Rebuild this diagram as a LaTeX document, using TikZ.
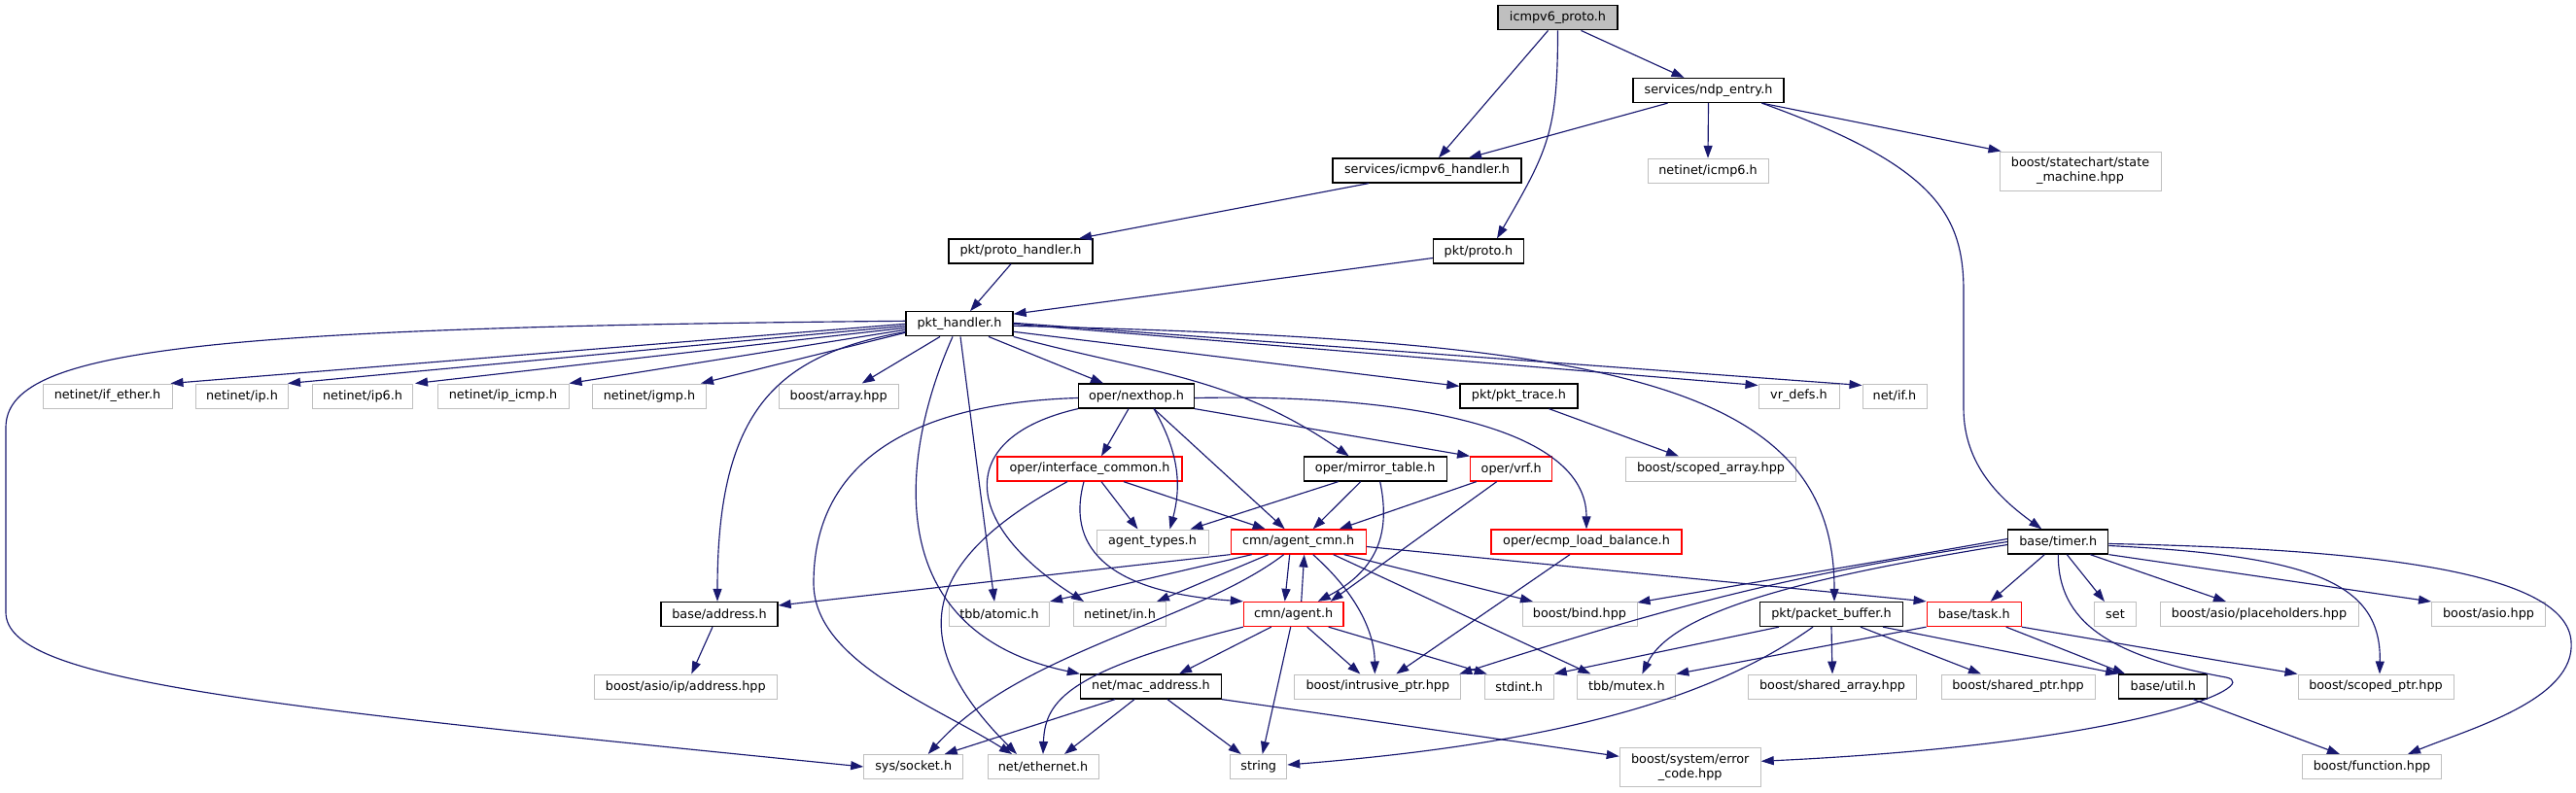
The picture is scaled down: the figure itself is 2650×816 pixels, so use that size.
\documentclass[tikz,border=0pt]{standalone}
\usepackage{fontspec}
\setmainfont{DejaVu Sans}
\usetikzlibrary{arrows.meta}
\definecolor{edgeblue}{HTML}{191970}
\definecolor{extgray}{HTML}{BFBFBF}

\begin{document}
\begin{tikzpicture}[x=1pt,y=1pt,>={Triangle[length=13pt,width=9pt]},
                    every node/.style={font=\fontsize{12.8}{15}\selectfont,
                      inner sep=0pt,minimum height=25pt,align=center},
                    box/.style={draw,rectangle,line width=1.3pt},
                    hdr/.style={box,draw=black},
                    ext/.style={box,draw=extgray,line width=1pt},
                    inc/.style={box,draw=red},
                    top/.style={box,draw=black,fill=extgray},
                    dep/.style={->,draw=edgeblue,line width=1.15pt}]
  \useasboundingbox (0,0) rectangle (2650,-816);
  % headers
  \node[top,minimum width=123pt] (root) at (1602.5,-18.3) {icmpv6\_proto.h};
  \node[hdr,minimum width=155pt] (ndp) at (1757.5,-93) {services/ndp\_entry.h};
  \node[hdr,minimum width=194pt] (ihand) at (1468,-175.5) {services/icmpv6\_handler.h};
  \node[ext,minimum width=124pt] (icmp6) at (1757,-175.8) {netinet/icmp6.h};
  \node[ext,minimum width=166pt,minimum height=40pt] (fsm) at (2140,-176) {boost/statechart/state\\\_machine.hpp};
  \node[hdr,minimum width=148pt] (phand) at (1050,-258.5) {pkt/proto\_handler.h};
  \node[hdr,minimum width=93pt] (proto) at (1521,-258.5) {pkt/proto.h};
  \node[hdr,minimum width=110pt] (pkth) at (987,-333.3) {pkt\_handler.h};
  \node[ext,minimum width=133pt] (ifeth) at (110.5,-407.5) {netinet/if\_ether.h};
  \node[ext,minimum width=95pt] (ip) at (249,-407.5) {netinet/ip.h};
  \node[ext,minimum width=103pt] (ip6) at (373,-407.5) {netinet/ip6.h};
  \node[ext,minimum width=135pt] (icmp) at (517.5,-407.5) {netinet/ip\_icmp.h};
  \node[ext,minimum width=117pt] (igmp) at (668,-407.5) {netinet/igmp.h};
  \node[ext,minimum width=123pt] (array) at (862.7,-407.5) {boost/array.hpp};
  \node[hdr,minimum width=119pt] (nhop) at (1169,-407.5) {oper/nexthop.h};
  \node[hdr,minimum width=121pt] (trace) at (1562.5,-407.5) {pkt/pkt\_trace.h};
  \node[ext,minimum width=83pt] (vrdefs) at (1850.5,-407.5) {vr\_defs.h};
  \node[ext,minimum width=66pt] (netif) at (1949,-407.5) {net/if.h};
  \node[inc,minimum width=190pt] (intf) at (1121,-482.5) {oper/interface\_common.h};
  \node[hdr,minimum width=147pt] (mirror) at (1414.7,-482.5) {oper/mirror\_table.h};
  \node[inc,minimum width=84pt] (vrf) at (1554.7,-482.5) {oper/vrf.h};
  \node[ext,minimum width=175pt] (sarray) at (1760,-482.5) {boost/scoped\_array.hpp};
  \node[ext,minimum width=115pt] (atypes) at (1185.5,-557.5) {agent\_types.h};
  \node[inc,minimum width=139pt] (acmn) at (1335.7,-557.5) {cmn/agent\_cmn.h};
  \node[inc,minimum width=196pt] (ecmp) at (1632,-557.5) {oper/ecmp\_load\_balance.h};
  \node[hdr,minimum width=103pt] (timer) at (2117.3,-557.5) {base/timer.h};
  \node[hdr,minimum width=120pt] (addr) at (740,-632) {base/address.h};
  \node[ext,minimum width=103pt] (atomic) at (1028,-632) {tbb/atomic.h};
  \node[ext,minimum width=95pt] (netin) at (1152,-632) {netinet/in.h};
  \node[inc,minimum width=102.5pt] (agent) at (1330.7,-632) {cmn/agent.h};
  \node[ext,minimum width=118pt] (bind) at (1625,-632) {boost/bind.hpp};
  \node[hdr,minimum width=147pt] (pbuf) at (1884,-632) {pkt/packet\_buffer.h};
  \node[inc,minimum width=97pt] (task) at (2030.7,-632) {base/task.h};
  \node[ext,minimum width=43pt] (set) at (2176,-632) {set};
  \node[ext,minimum width=204pt] (ph) at (2324,-632) {boost/asio/placeholders.hpp};
  \node[ext,minimum width=117pt] (asio) at (2560,-632) {boost/asio.hpp};
  \node[ext,minimum width=188pt] (ipaddr) at (705.3,-706.5) {boost/asio/ip/address.hpp};
  \node[hdr,minimum width=145pt] (mac) at (1184,-706.5) {net/mac\_address.h};
  \node[ext,minimum width=171pt] (iptr) at (1417.3,-706.5) {boost/intrusive\_ptr.hpp};
  \node[ext,minimum width=71pt] (stdint) at (1562.7,-706.5) {stdint.h};
  \node[ext,minimum width=101pt] (mutex) at (1673.3,-706.5) {tbb/mutex.h};
  \node[ext,minimum width=173pt] (sharr) at (1885,-706.5) {boost/shared\_array.hpp};
  \node[ext,minimum width=158pt] (shptr) at (2076,-706.5) {boost/shared\_ptr.hpp};
  \node[hdr,minimum width=91pt] (util) at (2225.3,-706.5) {base/util.h};
  \node[ext,minimum width=160pt] (sptr) at (2444,-706.5) {boost/scoped\_ptr.hpp};
  \node[ext,minimum width=102pt] (socket) at (939.7,-789) {sys/socket.h};
  \node[ext,minimum width=114pt] (eth) at (1073,-789) {net/ethernet.h};
  \node[ext,minimum width=58pt] (string) at (1294.7,-789) {string};
  \node[ext,minimum width=145pt,minimum height=40pt] (errc) at (1738.7,-789.3) {boost/system/error\\\_code.hpp};
  \node[ext,minimum width=143pt] (func) at (2440,-789) {boost/function.hpp};

  % top of the graph
  \draw[dep] ([xshift=-10pt]root.south) -- ([xshift=12pt]ihand.north);
  \draw[dep] (root.south) to[out=-90,in=60,looseness=1.2] ([xshift=19pt]proto.north);
  \draw[dep] ([xshift=24pt]root.south) -- ([xshift=-25pt]ndp.north);
  \draw[dep] ([xshift=-42pt]ndp.south) -- ([xshift=43pt]ihand.north);
  \draw[dep] (ndp.south) -- (icmp6.north);
  \draw[dep] ([xshift=55pt]ndp.south) -- ([xshift=2pt]fsm.north west);
  \draw[dep] ([xshift=55pt]ndp.south) .. controls (1990,-170) and (2020,-220) .. (2020,-300)
    -- (2020,-420) .. controls (2020,-480) and (2060,-515) .. ([xshift=-17pt]timer.north);
  \draw[dep] ([xshift=-60pt]ihand.south) -- ([xshift=60pt]phand.north);
  \draw[dep] ([xshift=-10pt]phand.south) -- ([xshift=11pt]pkth.north);
  \draw[dep] ([yshift=-7pt]proto.west) -- ([yshift=-3pt]pkth.north east);

  % pkt_handler.h
  \draw[dep] (pkth.west) -- ([xshift=-2pt]ifeth.north east);
  \draw[dep] ([yshift=-2pt]pkth.west) -- ([xshift=-1pt]ip.north east);
  \draw[dep] ([yshift=-4pt]pkth.west) -- ([xshift=2pt]ip6.north east);
  \draw[dep] ([yshift=-6pt]pkth.west) -- (icmp.north east);
  \draw[dep] ([yshift=-9pt]pkth.west) -- ([xshift=-6pt]igmp.north east);
  \draw[dep] ([xshift=-20pt]pkth.south) -- ([xshift=24pt]array.north);
  \draw[dep] ([yshift=3pt]pkth.west) .. controls (200,-337) and (6,-360) .. (6,-440)
    -- (6,-630) .. controls (6,-700) and (250,-725) .. (socket.west);
  \draw[dep] ([yshift=5pt]pkth.south west) .. controls (800,-365) and (738,-420) .. ([xshift=-2pt]addr.north);
  \draw[dep] ([xshift=-7pt]pkth.south) .. controls (925,-470) and (905,-650) .. (mac.north west);
  \draw[dep] ([xshift=1pt]pkth.south) -- ([xshift=-5pt]atomic.north);
  \draw[dep] ([xshift=30pt]pkth.south) -- ([xshift=-34pt]nhop.north);
  \draw[dep] (pkth.south east) to[out=-15,in=145] ([xshift=-27pt]mirror.north);
  \draw[dep] ([yshift=-8pt]pkth.east) -- ([yshift=-3pt]trace.north west);
  \draw[dep] ([yshift=-2pt]pkth.east) .. controls (1650,-350) and (1887,-390) .. ([xshift=3pt]pbuf.north);
  \draw[dep] (pkth.east) -- ([yshift=-2pt]vrdefs.north west);
  \draw[dep] ([yshift=1pt]pkth.east) -- ([yshift=-2pt]netif.north west);

  % oper/nexthop.h
  \draw[dep] ([xshift=-8pt]nhop.south) -- ([xshift=12pt]intf.north);
  \draw[dep] ([xshift=18pt]nhop.south) to[out=-60,in=75] ([xshift=18pt]atypes.north);
  \draw[dep] ([xshift=18pt]nhop.south) -- ([xshift=-14pt]acmn.north);
  \draw[dep] (nhop.south east) -- (vrf.north west);
  \draw[dep] ([yshift=-2pt]nhop.east) .. controls (1450,-405) and (1632,-440) .. (ecmp.north);
  \draw[dep] (nhop.south west) .. controls (980,-450) and (990,-540) .. ([xshift=-37pt]netin.north);
  \draw[dep] ([yshift=-2pt]nhop.west) .. controls (930,-415) and (837,-480) .. (837,-600)
    .. controls (837,-680) and (960,-725) .. ([xshift=-32pt]eth.north);

  % oper/interface_common.h, mirror_table.h, vrf.h
  \draw[dep] ([xshift=12pt]intf.south) -- ([xshift=-15pt]atypes.north);
  \draw[dep] ([xshift=35pt]intf.south) -- ([xshift=-34pt]acmn.north);
  \draw[dep] ([xshift=-6pt]intf.south) .. controls (1095,-570) and (1150,-610) .. (agent.north west);
  \draw[dep] ([xshift=-23pt]intf.south) .. controls (960,-570) and (920,-650) .. ([xshift=-27pt]eth.north);
  \draw[dep] ([xshift=-38pt]mirror.south) -- ([xshift=39pt]atypes.north);
  \draw[dep] ([xshift=-15pt]mirror.south) -- ([xshift=15pt]acmn.north);
  \draw[dep] ([xshift=5pt]mirror.south) .. controls (1430,-545) and (1420,-585) .. ([xshift=25pt]agent.north);
  \draw[dep] ([xshift=-36pt]vrf.south) -- ([xshift=42pt]acmn.north);
  \draw[dep] ([xshift=-15pt]vrf.south) -- ([xshift=38pt]agent.north);

  % cmn/agent_cmn.h
  \draw[dep] (acmn.south west) -- ([yshift=9pt]addr.east);
  \draw[dep] ([xshift=-48pt]acmn.south) -- (atomic.north east);
  \draw[dep] ([xshift=-31pt]acmn.south) -- ([xshift=38pt]netin.north);
  \draw[dep] ([xshift=-9pt]acmn.south) -- ([xshift=-9pt]agent.north);
  \draw[dep] ([xshift=8pt]agent.north) -- ([xshift=6pt]acmn.south);
  \draw[dep] ([xshift=-15pt]acmn.south) .. controls (1230,-640) and (1050,-670) .. ([xshift=15pt]socket.north);
  \draw[dep] ([xshift=15pt]acmn.south) .. controls (1395,-610) and (1414,-650) .. ([xshift=-3pt]iptr.north);
  \draw[dep] ([xshift=36pt]acmn.south) -- ([xshift=-37pt]mutex.north);
  \draw[dep] ([xshift=47pt]acmn.south) -- ([xshift=-48pt]bind.north);
  \draw[dep] ([yshift=-5pt]acmn.east) -- (task.north west);

  % cmn/agent.h
  \draw[dep] ([xshift=-23pt]agent.south) -- ([xshift=29pt]mac.north);
  \draw[dep] (agent.south west) .. controls (1100,-690) and (1075,-720) .. (eth.north);
  \draw[dep] ([xshift=-3pt]agent.south) -- ([xshift=4pt]string.north);
  \draw[dep] ([xshift=14pt]agent.south) -- ([xshift=-18pt]iptr.north);
  \draw[dep] ([xshift=36pt]agent.south) -- ([xshift=3pt]stdint.north west);

  % net/mac_address.h and the rest
  \draw[dep] ([xshift=-37pt]mac.south) -- ([xshift=32pt]socket.north);
  \draw[dep] ([xshift=-17pt]mac.south) -- ([xshift=22pt]eth.north);
  \draw[dep] ([xshift=17pt]mac.south) -- ([xshift=-18pt]string.north);
  \draw[dep] (mac.south east) -- ([yshift=11pt]errc.west);
  \draw[dep] ([xshift=-17pt]ecmp.south) -- ([xshift=19pt]iptr.north);
  \draw[dep] ([xshift=31pt]trace.south) -- ([xshift=-33pt]sarray.north);
  \draw[dep] ([xshift=-7pt]addr.south) -- ([xshift=6pt]ipaddr.north);

  % base/timer.h
  \draw[dep] ([xshift=-14pt]timer.south) -- ([xshift=17pt]task.north);
  \draw[dep] ([xshift=9pt]timer.south) -- ([xshift=-11pt]set.north);
  \draw[dep] ([xshift=33pt]timer.south) -- ([xshift=-34pt]ph.north);
  \draw[dep] (timer.south east) -- (asio.north west);
  \draw[dep] ([yshift=-4pt]timer.east) .. controls (2380,-572) and (2450,-600) .. ([xshift=4pt]sptr.north);
  \draw[dep] ([yshift=-2pt]timer.east) .. controls (2450,-565) and (2640,-590) .. (2645,-660)
    .. controls (2650,-720) and (2540,-750) .. ([xshift=37pt]func.north);
  \draw[dep] ([yshift=3pt]timer.west) .. controls (1950,-575) and (1800,-600) .. ([yshift=-1pt]bind.north east);
  \draw[dep] (timer.west) .. controls (1850,-590) and (1730,-620) .. ([xshift=-2pt]iptr.north east);
  \draw[dep] ([yshift=-3pt]timer.west) .. controls (1850,-595) and (1720,-630) .. ([xshift=16pt]mutex.north);
  \draw[dep] (timer.south) .. controls (2117,-640) and (2170,-675) .. (2290,-697)
    .. controls (2330,-705) and (2200,-765) .. ([yshift=6pt]errc.east);

  % base/task.h, pkt/packet_buffer.h, base/util.h
  \draw[dep] ([xshift=33pt]task.south) -- ([xshift=7pt]util.north west);
  \draw[dep] (task.south east) -- (sptr.north west);
  \draw[dep] (task.south west) -- (mutex.north east);
  \draw[dep] (pbuf.south) -- (sharr.north);
  \draw[dep] ([xshift=30pt]pbuf.south) -- ([xshift=-38pt]shptr.north);
  \draw[dep] ([xshift=53pt]pbuf.south) -- (util.north west);
  \draw[dep] ([xshift=-54pt]pbuf.south) -- (stdint.north east);
  \draw[dep] ([xshift=-19pt]pbuf.south) .. controls (1760,-720) and (1600,-765) .. ([yshift=2pt]string.east);
  \draw[dep] ([xshift=31pt]util.south) -- ([xshift=-33pt]func.north);
\end{tikzpicture}
\end{document}
